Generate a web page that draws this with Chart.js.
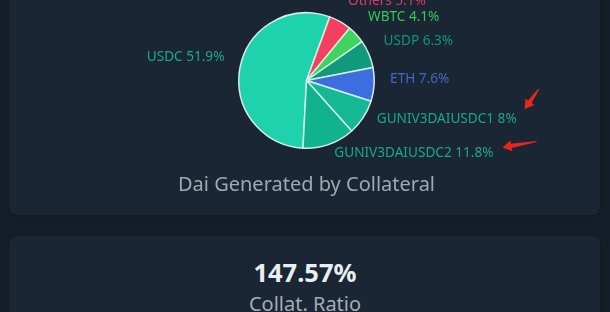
<!DOCTYPE html>
<html>
<head>
<meta charset="utf-8">
<script src="https://cdn.jsdelivr.net/npm/chart.js@4.4.1/dist/chart.umd.min.js"></script>
<style>
  html, body { margin: 0; padding: 0; }
  body {
    width: 610px; height: 312px; overflow: hidden; position: relative;
    background: #151e28; font-family: "Noto Sans", "Open Sans", sans-serif;
  }
  .card {
    position: absolute; left: 9px; width: 591px;
    background: #1b2634; border-radius: 8px;
    box-shadow: 0 1px 3px rgba(0,0,0,0.25);
  }
  #card1 { top: -12px; height: 227px; }
  #card2 { top: 236px; height: 100px; }
  #chartBox { position: absolute; left: 0; top: 0; width: 610px; height: 200px; }
  .stat {
    position: absolute; left: 0; width: 610px; text-align: center;
  }
  #ratio { top: 254px; font-size: 25.5px; font-weight: 700; color: #e9eef3; line-height: 36px; }
  #ratioLabel { top: 290px; font-size: 20px; color: #a2acb7; line-height: 28px; }
</style>
</head>
<body>
<div class="card" id="card1"></div>
<div class="card" id="card2"></div>
<div id="chartBox"><canvas id="pie" width="610" height="200"></canvas></div>
<div class="stat" id="ratio"></div>
<div class="stat" id="ratioLabel"></div>

<script>
// Collateral types and their share of generated Dai (%)
const categories = ['USDC', 'Others', 'WBTC', 'USDP', 'ETH', 'GUNIV3DAIUSDC1', 'GUNIV3DAIUSDC2'];
const shares = [51.9, 5.1, 4.1, 6.3, 7.6, 8, 11.8];

// Headline stat below the chart
const collatRatio = 147.57;
const collatRatioLabel = 'Collat. Ratio';

// Labels that get a red pointer next to them
const highlighted = ['GUNIV3DAIUSDC1', 'GUNIV3DAIUSDC2'];

const sliceColors = ['#1dd2ad', '#f43f5e', '#3ed45e', '#0f9a7c', '#3b6fe0', '#14b894', '#11b28e'];
const labelColors = ['#19a98b', '#d93c6e', '#35c758', '#139479', '#3f67c9', '#17a88c', '#17a88c'];
const FONT = '"Noto Sans", "Open Sans", sans-serif';

document.getElementById('ratio').textContent = collatRatio.toFixed(2) + '%';
document.getElementById('ratioLabel').textContent = collatRatioLabel;

// Draws "Name value%" outside each slice, plus optional red pointers
const outLabels = {
  id: 'outLabels',
  afterDatasetsDraw(chart, args, opts) {
    const ctx = chart.ctx;
    const meta = chart.getDatasetMeta(0);
    const values = chart.data.datasets[0].data;
    ctx.save();
    ctx.font = '13.6px ' + FONT;
    ctx.textBaseline = 'bottom';
    meta.data.forEach((arc, i) => {
      const p = arc.getProps(['x', 'y', 'startAngle', 'endAngle', 'outerRadius'], true);
      const mid = (p.startAngle + p.endAngle) / 2;
      const r = p.outerRadius + opts.offset;
      const lx = p.x + Math.cos(mid) * r;
      const ly = p.y + Math.sin(mid) * r;
      const right = Math.cos(mid) >= 0;
      const text = chart.data.labels[i] + ' ' + values[i] + '%';
      ctx.textAlign = right ? 'left' : 'right';
      ctx.fillStyle = labelColors[i];
      ctx.fillText(text, lx, ly);

      const hi = highlighted.indexOf(chart.data.labels[i]);
      if (hi >= 0) {
        const w = ctx.measureText(text).width;
        const endX = right ? lx + w : lx;
        const cy = ly - 7;
        const a = opts.pointers[hi];
        drawPointer(ctx, endX + a.tail[0], cy + a.tail[1], endX + a.head[0], cy + a.head[1]);
      }
    });
    ctx.restore();
  }
};

function drawPointer(ctx, x0, y0, x1, y1) {
  const dx = x1 - x0, dy = y1 - y0;
  const len = Math.hypot(dx, dy);
  const ux = dx / len, uy = dy / len;
  const nx = -uy, ny = ux;
  const headLen = 9, headW = 5.5;
  const bx = x1 - ux * headLen, by = y1 - uy * headLen;
  ctx.fillStyle = '#e8261c';
  ctx.beginPath();
  ctx.moveTo(x0 + nx * 0.6, y0 + ny * 0.6);
  ctx.lineTo(bx + nx * 2.2, by + ny * 2.2);
  ctx.lineTo(bx + nx * headW, by + ny * headW);
  ctx.lineTo(x1, y1);
  ctx.lineTo(bx - nx * headW, by - ny * headW);
  ctx.lineTo(bx - nx * 2.2, by - ny * 2.2);
  ctx.lineTo(x0 - nx * 0.6, y0 - ny * 0.6);
  ctx.closePath();
  ctx.fill();
}

new Chart(document.getElementById('pie'), {
  type: 'pie',
  data: {
    labels: categories,
    datasets: [{
      data: shares,
      backgroundColor: sliceColors,
      borderColor: '#d3ece6',
      borderWidth: 1.5
    }]
  },
  options: {
    responsive: false,
    animation: false,
    rotation: 183,
    layout: { padding: { top: 12, bottom: 0, left: 3, right: 0 } },
    plugins: {
      legend: { display: false },
      tooltip: { enabled: false },
      title: {
        display: true,
        position: 'bottom',
        text: 'Dai Generated by Collateral',
        color: '#9fa9b4',
        font: { family: FONT, size: 20, weight: 'normal', lineHeight: 1.2 },
        padding: { top: 24, bottom: 3 }
      },
      outLabels: {
        offset: 16,
        pointers: [
          { tail: [22, -30], head: [8, -10] },
          { tail: [43, -11], head: [9, -5] }
        ]
      }
    }
  },
  plugins: [outLabels]
});
</script>
</body>
</html>
